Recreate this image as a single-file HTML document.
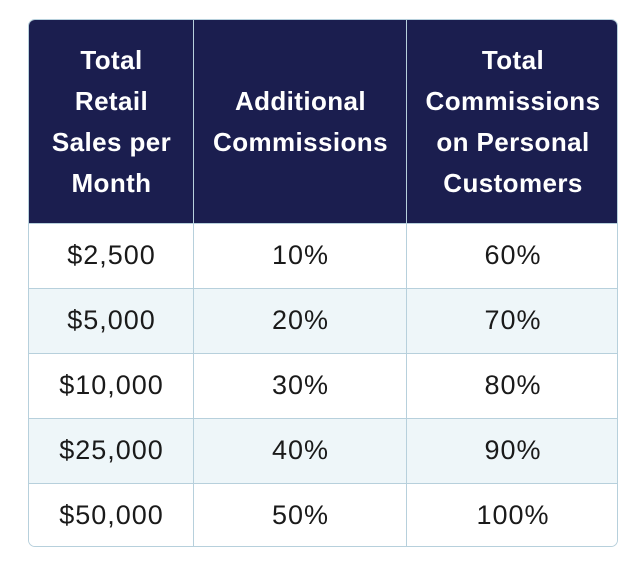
<!DOCTYPE html>
<html><head><meta charset="utf-8"><style>
body{margin:0;width:640px;height:564px;background:#fff;position:relative;overflow:hidden;font-family:"Liberation Sans",sans-serif;}
.t{position:absolute;left:28px;top:19px;width:590px;height:528px;border-radius:7px;overflow:hidden;box-sizing:border-box;border:1px solid #b7d0dc;}
.h{position:absolute;left:0;top:0;width:590px;height:203px;background:#1b1e4f;}
.c{position:absolute;display:flex;align-items:center;justify-content:center;text-align:center;}
.hd{color:#fff;font-weight:bold;font-size:26px;line-height:41px;letter-spacing:0.4px;}
.r{position:absolute;left:0;width:590px;height:65px;border-top:1px solid #b7d0dc;box-sizing:border-box;}
.b{font-size:27px;color:#1a1a1a;height:65px;letter-spacing:1px;}
.v{position:absolute;top:0;width:1px;height:528px;background:#b7d0dc;}
</style></head><body>
<div class="t">
<div class="h"></div>
<div class="c hd" style="left:0;top:0;width:165px;height:203px">Total<br>Retail<br>Sales per<br>Month</div>
<div class="c hd" style="left:165px;top:0;width:213px;height:203px">Additional<br>Commissions</div>
<div class="c hd" style="left:378px;top:0;width:212px;height:203px">Total<br>Commissions<br>on Personal<br>Customers</div>
<div class="r" style="top:203px;background:#fff"></div>
<div class="r" style="top:268px;background:#eef6f9"></div>
<div class="r" style="top:333px;background:#fff"></div>
<div class="r" style="top:398px;background:#eef6f9"></div>
<div class="r" style="top:463px;background:#fff"></div>
<div class="v" style="left:164px"></div>
<div class="v" style="left:377px"></div>
<div class="c b" style="left:0;top:203px;width:165px">$2,500</div>
<div class="c b" style="left:165px;top:203px;width:213px">10%</div>
<div class="c b" style="left:378px;top:203px;width:212px">60%</div>
<div class="c b" style="left:0;top:268px;width:165px">$5,000</div>
<div class="c b" style="left:165px;top:268px;width:213px">20%</div>
<div class="c b" style="left:378px;top:268px;width:212px">70%</div>
<div class="c b" style="left:0;top:333px;width:165px">$10,000</div>
<div class="c b" style="left:165px;top:333px;width:213px">30%</div>
<div class="c b" style="left:378px;top:333px;width:212px">80%</div>
<div class="c b" style="left:0;top:398px;width:165px">$25,000</div>
<div class="c b" style="left:165px;top:398px;width:213px">40%</div>
<div class="c b" style="left:378px;top:398px;width:212px">90%</div>
<div class="c b" style="left:0;top:463px;width:165px">$50,000</div>
<div class="c b" style="left:165px;top:463px;width:213px">50%</div>
<div class="c b" style="left:378px;top:463px;width:212px">100%</div>
</div>
</body></html>
